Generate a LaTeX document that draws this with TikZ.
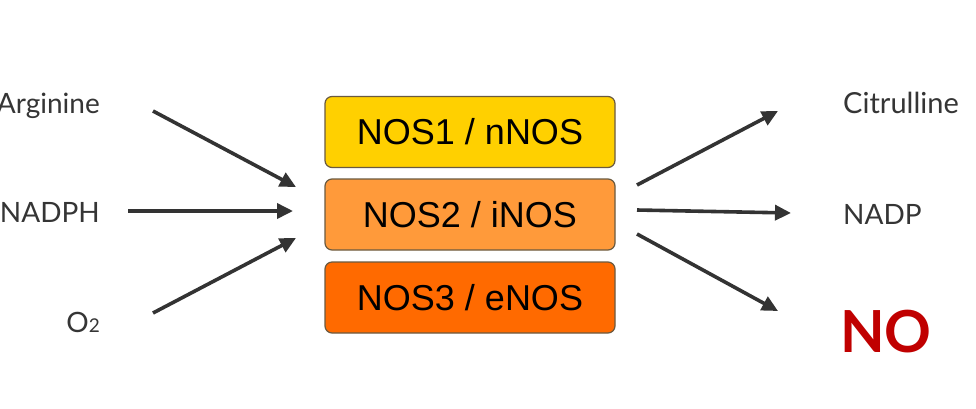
\documentclass[tikz,border=0pt]{standalone}
\usepackage{fontspec}
\setmainfont{Lato}
\newfontfamily\boxfont{Liberation Sans}
\usetikzlibrary{arrows.meta}
\definecolor{txtgray}{HTML}{353535}
\definecolor{arrgray}{HTML}{333333}
\definecolor{nosone}{HTML}{FFD000}
\definecolor{nostwo}{HTML}{FF9A3A}
\definecolor{nosthree}{HTML}{FF6A00}
\definecolor{boxedge}{HTML}{6A5A40}
\definecolor{nored}{HTML}{C00000}
\begin{document}
\begin{tikzpicture}[x=1pt,y=-1pt,
  lbl/.style={inner sep=0pt, text=txtgray, font=\fontsize{28}{30}\selectfont},
  enzbox/.style={draw=boxedge, line width=1.2pt, rounded corners=7pt, minimum width=290pt, minimum height=71pt, inner sep=0pt, font=\boxfont\fontsize{36}{38}\selectfont, text=black},
  flow/.style={draw=arrgray, line width=3.6pt, -{Triangle[length=16pt,width=15pt]}}]
\useasboundingbox[fill=white] (0,0) rectangle (976,408);
% enzyme boxes
\node[enzbox, fill=nosone] (b1) at (470,132) {NOS1 / nNOS};
\node[enzbox, fill=nostwo] (b2) at (470,214.5) {NOS2 / iNOS};
\node[enzbox, fill=nosthree] (b3) at (470,297.5) {NOS3 / eNOS};
% labels
\node[lbl, anchor=base east] (arg) at (100,113) {Arginine};
\node[lbl, anchor=base east] (nadph) at (100,222) {NADPH};
\node[lbl, anchor=base east] (oxy) at (100,332) {O{\fontsize{19}{20}\selectfont 2}};
\node[lbl, anchor=base west, font=\fontsize{29}{30}\selectfont] (cit) at (843,113) {Citrulline};
\node[lbl, anchor=base west] (nadp) at (843,224) {NADP};
\node[lbl, anchor=base west, text=nored, font=\fontsize{58}{60}\selectfont\bfseries] (no) at (840,352) {NO};
% arrow ends
\coordinate (a1s) at (153,111); \coordinate (a1e) at (296,187);
\coordinate (a2s) at (128,211); \coordinate (a2e) at (293,211);
\coordinate (a3s) at (153,313); \coordinate (a3e) at (296,238);
\coordinate (c1s) at (637,185); \coordinate (c1e) at (778,111);
\coordinate (c2s) at (637,210); \coordinate (c2e) at (791,213);
\coordinate (c3s) at (637,234); \coordinate (c3e) at (778,311);
\draw[flow] (a1s) -- (a1e);
\draw[flow] (a2s) -- (a2e);
\draw[flow] (a3s) -- (a3e);
\draw[flow] (c1s) -- (c1e);
\draw[flow] (c2s) -- (c2e);
\draw[flow] (c3s) -- (c3e);
\end{tikzpicture}
\end{document}
